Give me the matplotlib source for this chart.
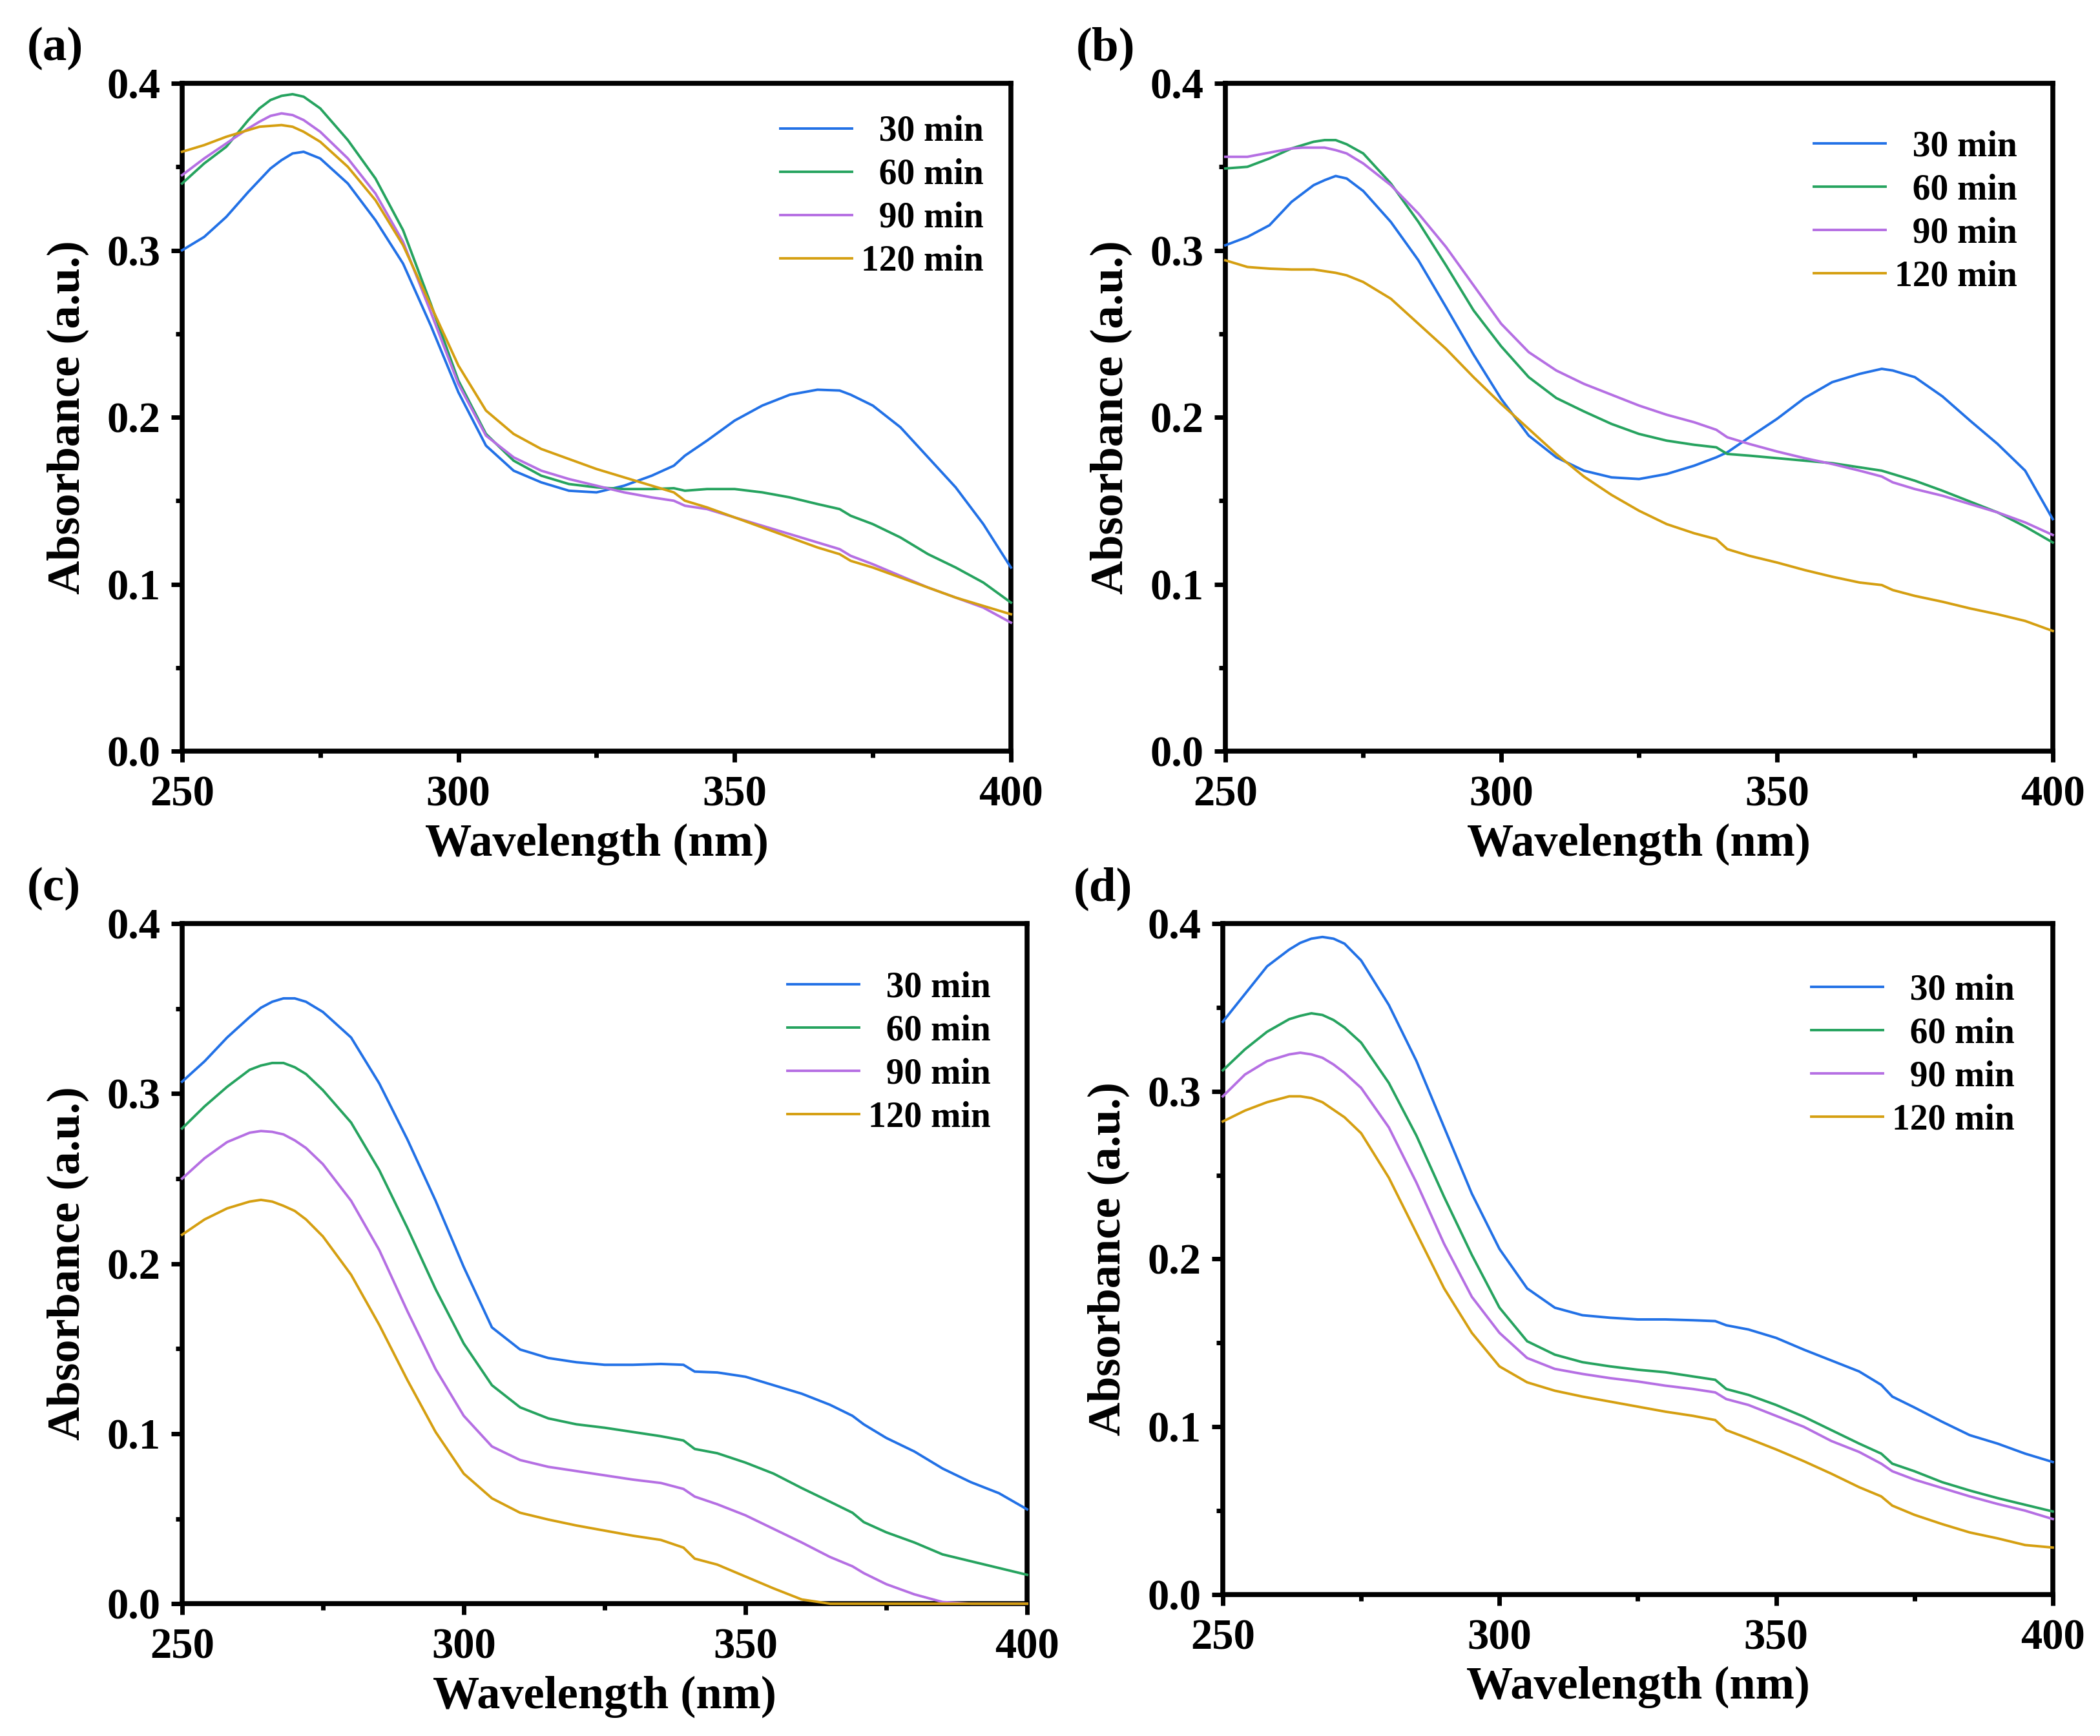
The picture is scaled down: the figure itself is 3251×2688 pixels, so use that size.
import matplotlib
matplotlib.use('Agg')
import matplotlib.pyplot as plt
from matplotlib.ticker import MultipleLocator, FormatStrFormatter

plt.rcParams['font.family'] = ['Liberation Serif', 'DejaVu Serif']
plt.rcParams['font.weight'] = 'bold'

# longitud de onda (nm), comun a todas las curvas
wl = [250, 254, 258, 262, 264, 266, 268, 270, 272, 275, 280, 285, 290, 295, 300,
      305, 310, 315, 320, 325, 330, 335, 339, 341, 345, 350, 355, 360, 365, 369,
      371, 375, 380, 385, 390, 395, 400]

tiempos = ['  30 min', '  60 min', '  90 min', '120 min']
colores = ['#2271E6', '#26A35F', '#B56FE3', '#D59F11']

# (a)
a_30 = [0.300, 0.308, 0.320, 0.335, 0.342, 0.349, 0.354, 0.358, 0.359, 0.355, 0.340, 0.318, 0.292, 0.255, 0.215,
        0.183, 0.168, 0.161, 0.156, 0.155, 0.159, 0.165, 0.171, 0.177, 0.186, 0.198, 0.207, 0.2135, 0.2165, 0.216,
        0.2135, 0.207, 0.194, 0.176, 0.158, 0.136, 0.110]
a_60 = [0.340, 0.352, 0.362, 0.378, 0.385, 0.390, 0.3925, 0.3935, 0.392, 0.385, 0.366, 0.343, 0.312, 0.268, 0.222,
        0.190, 0.174, 0.165, 0.160, 0.158, 0.157, 0.157, 0.1575, 0.156, 0.157, 0.157, 0.155, 0.152, 0.148, 0.145,
        0.141, 0.136, 0.128, 0.118, 0.110, 0.101, 0.089]
a_90 = [0.345, 0.355, 0.364, 0.373, 0.377, 0.3805, 0.382, 0.381, 0.378, 0.371, 0.355, 0.334, 0.305, 0.263, 0.220,
        0.189, 0.176, 0.168, 0.163, 0.159, 0.155, 0.152, 0.150, 0.147, 0.145, 0.140, 0.135, 0.130, 0.125, 0.121,
        0.117, 0.112, 0.105, 0.098, 0.092, 0.086, 0.077]
a_120 = [0.359, 0.363, 0.368, 0.372, 0.374, 0.3745, 0.375, 0.374, 0.371, 0.365, 0.350, 0.330, 0.303, 0.267, 0.231,
         0.204, 0.190, 0.181, 0.175, 0.169, 0.164, 0.159, 0.155, 0.150, 0.146, 0.140, 0.134, 0.128, 0.122, 0.118,
         0.114, 0.110, 0.104, 0.098, 0.092, 0.087, 0.082]

# (b)
b_30 = [0.303, 0.308, 0.315, 0.329, 0.334, 0.339, 0.342, 0.3445, 0.343, 0.3355, 0.317, 0.294, 0.266, 0.2375, 0.211,
        0.189, 0.176, 0.168, 0.164, 0.163, 0.166, 0.171, 0.176, 0.179, 0.188, 0.199, 0.2115, 0.221, 0.226, 0.229,
        0.228, 0.224, 0.2125, 0.198, 0.184, 0.168, 0.139]
b_60 = [0.349, 0.350, 0.355, 0.361, 0.363, 0.365, 0.366, 0.366, 0.3635, 0.358, 0.340, 0.317, 0.291, 0.264, 0.2425,
        0.224, 0.2115, 0.2035, 0.196, 0.190, 0.186, 0.1835, 0.182, 0.178, 0.177, 0.1755, 0.174, 0.1725, 0.170, 0.168,
        0.166, 0.162, 0.156, 0.1495, 0.143, 0.1345, 0.125]
b_90 = [0.356, 0.356, 0.3585, 0.361, 0.3615, 0.3615, 0.3615, 0.360, 0.358, 0.352, 0.339, 0.322, 0.302, 0.279, 0.256,
        0.239, 0.228, 0.220, 0.2135, 0.207, 0.2015, 0.197, 0.1925, 0.188, 0.184, 0.1795, 0.1755, 0.172, 0.168, 0.1645,
        0.161, 0.157, 0.153, 0.148, 0.143, 0.137, 0.1295]
b_120 = [0.294, 0.290, 0.289, 0.2885, 0.2885, 0.2885, 0.2875, 0.2865, 0.285, 0.281, 0.271, 0.256, 0.241, 0.224, 0.208,
         0.193, 0.178, 0.1645, 0.1535, 0.144, 0.136, 0.1305, 0.127, 0.121, 0.117, 0.113, 0.1085, 0.1045, 0.101, 0.0995,
         0.0965, 0.093, 0.0895, 0.0855, 0.082, 0.078, 0.072]

# (c)
c_30 = [0.307, 0.319, 0.333, 0.345, 0.3505, 0.354, 0.356, 0.356, 0.354, 0.348, 0.333, 0.306, 0.273, 0.237, 0.198,
        0.1625, 0.1495, 0.1445, 0.142, 0.1405, 0.1405, 0.141, 0.1405, 0.1365, 0.136, 0.1335, 0.1285, 0.1235, 0.117, 0.1105,
        0.1055, 0.0975, 0.0895, 0.0795, 0.0715, 0.065, 0.0555]
c_60 = [0.2795, 0.2925, 0.304, 0.314, 0.3165, 0.318, 0.318, 0.3155, 0.3115, 0.302, 0.283, 0.255, 0.221, 0.185, 0.153,
        0.1285, 0.1155, 0.109, 0.1055, 0.1035, 0.101, 0.0985, 0.096, 0.091, 0.0885, 0.083, 0.0765, 0.068, 0.060, 0.0535,
        0.048, 0.042, 0.036, 0.029, 0.025, 0.021, 0.017]
c_90 = [0.250, 0.262, 0.2715, 0.277, 0.278, 0.2775, 0.276, 0.2725, 0.268, 0.2585, 0.237, 0.208, 0.172, 0.138, 0.1105,
        0.0925, 0.0845, 0.0805, 0.078, 0.0755, 0.073, 0.071, 0.0675, 0.063, 0.0585, 0.052, 0.044, 0.036, 0.0275, 0.022,
        0.018, 0.0115, 0.0055, 0.001, 0.0, 0.0, 0.0]
c_120 = [0.217, 0.226, 0.2325, 0.2365, 0.2375, 0.2365, 0.234, 0.231, 0.226, 0.216, 0.1935, 0.164, 0.1315, 0.101, 0.0765,
         0.062, 0.0535, 0.0495, 0.046, 0.043, 0.040, 0.0375, 0.033, 0.0265, 0.023, 0.016, 0.009, 0.0025, 0.0, 0.0,
         0.0, 0.0, 0.0, 0.0, 0.0, 0.0, 0.0]

# (d)
d_30 = [0.3415, 0.358, 0.3745, 0.3845, 0.3885, 0.391, 0.392, 0.391, 0.388, 0.378, 0.3515, 0.318, 0.2785, 0.239, 0.206,
        0.1825, 0.171, 0.1665, 0.165, 0.164, 0.164, 0.1635, 0.163, 0.1605, 0.158, 0.153, 0.146, 0.1395, 0.133, 0.125,
        0.118, 0.1115, 0.103, 0.095, 0.090, 0.084, 0.079]
d_60 = [0.3125, 0.325, 0.3355, 0.343, 0.345, 0.3465, 0.3455, 0.3425, 0.338, 0.329, 0.305, 0.2735, 0.237, 0.2025, 0.171,
        0.151, 0.143, 0.1385, 0.136, 0.134, 0.1325, 0.130, 0.128, 0.1225, 0.119, 0.113, 0.106, 0.098, 0.090, 0.084,
        0.078, 0.0735, 0.067, 0.062, 0.0575, 0.0535, 0.0495]
d_90 = [0.297, 0.310, 0.318, 0.322, 0.323, 0.322, 0.320, 0.316, 0.311, 0.302, 0.2785, 0.2455, 0.209, 0.1775, 0.156,
        0.141, 0.1345, 0.1315, 0.129, 0.127, 0.1245, 0.1225, 0.1205, 0.1165, 0.113, 0.1065, 0.100, 0.0915, 0.085, 0.078,
        0.0735, 0.0685, 0.0635, 0.0585, 0.054, 0.050, 0.045]
d_120 = [0.282, 0.2885, 0.2935, 0.297, 0.297, 0.296, 0.2935, 0.289, 0.2845, 0.275, 0.2485, 0.2155, 0.1825, 0.156, 0.136,
         0.1265, 0.1215, 0.118, 0.115, 0.112, 0.109, 0.1065, 0.104, 0.098, 0.093, 0.0865, 0.0795, 0.072, 0.064, 0.0585,
         0.053, 0.0475, 0.042, 0.037, 0.0335, 0.0295, 0.028]

paneles = [
    ('(a)', [a_30, a_60, a_90, a_120]),
    ('(b)', [b_30, b_60, b_90, b_120]),
    ('(c)', [c_30, c_60, c_90, c_120]),
    ('(d)', [d_30, d_60, d_90, d_120]),
]

# posiciones de los ejes [izq, abajo, ancho, alto] en fraccion de figura
cajas = [
    [0.0867, 0.5673, 0.3947, 0.3847],
    [0.5835, 0.5673, 0.3940, 0.3847],
    [0.0867, 0.0762, 0.4024, 0.3918],
    [0.5823, 0.0815, 0.3952, 0.3865],
]
leyendas = [(1.006, 1.001), (0.996, 0.978), (0.995, 0.978), (0.993, 0.974)]
desfase_letra = [-0.074, -0.071, -0.074, -0.071]

fig = plt.figure(figsize=(32.51, 26.88), dpi=100)

for (letra, series), caja, ley, dx in zip(paneles, cajas, leyendas, desfase_letra):
    ax = fig.add_axes(caja)
    for y, col, lab in zip(series, colores, tiempos):
        ax.plot(wl, y, color=col, lw=2.8, label=lab, clip_on=False, zorder=3)
    ax.set_xlim(250, 400)
    ax.set_ylim(0, 0.4)
    ax.xaxis.set_major_locator(MultipleLocator(50))
    ax.xaxis.set_minor_locator(MultipleLocator(25))
    ax.yaxis.set_major_locator(MultipleLocator(0.1))
    ax.yaxis.set_minor_locator(MultipleLocator(0.05))
    ax.yaxis.set_major_formatter(FormatStrFormatter('%.1f'))
    for s in ax.spines.values():
        s.set_linewidth(5.5)
    ax.tick_params(which='major', direction='out', length=12, width=5,
                   labelsize=48, pad=12, top=False, right=False)
    ax.tick_params(axis='x', which='major', pad=15)
    ax.tick_params(which='minor', direction='out', length=7, width=5,
                   top=False, right=False)
    for t in ax.get_xticklabels() + ax.get_yticklabels():
        t.set_fontweight('bold')
    ax.set_xlabel('Wavelength (nm)', fontsize=52, fontweight='bold', labelpad=9)
    ax.set_ylabel('Absorbance (a.u.)', fontsize=52, fontweight='bold', labelpad=20)
    ax.legend(loc='upper right', bbox_to_anchor=ley, frameon=False,
              handlelength=2.0, handletextpad=0.25, labelspacing=0.27,
              prop={'weight': 'bold', 'size': 40})
    pos = ax.get_position()
    fig.text(pos.x0 + dx, pos.y1 + 0.020, letra, fontsize=54, fontweight='bold',
             ha='left', va='center')

fig.savefig('out.png', dpi=100)
